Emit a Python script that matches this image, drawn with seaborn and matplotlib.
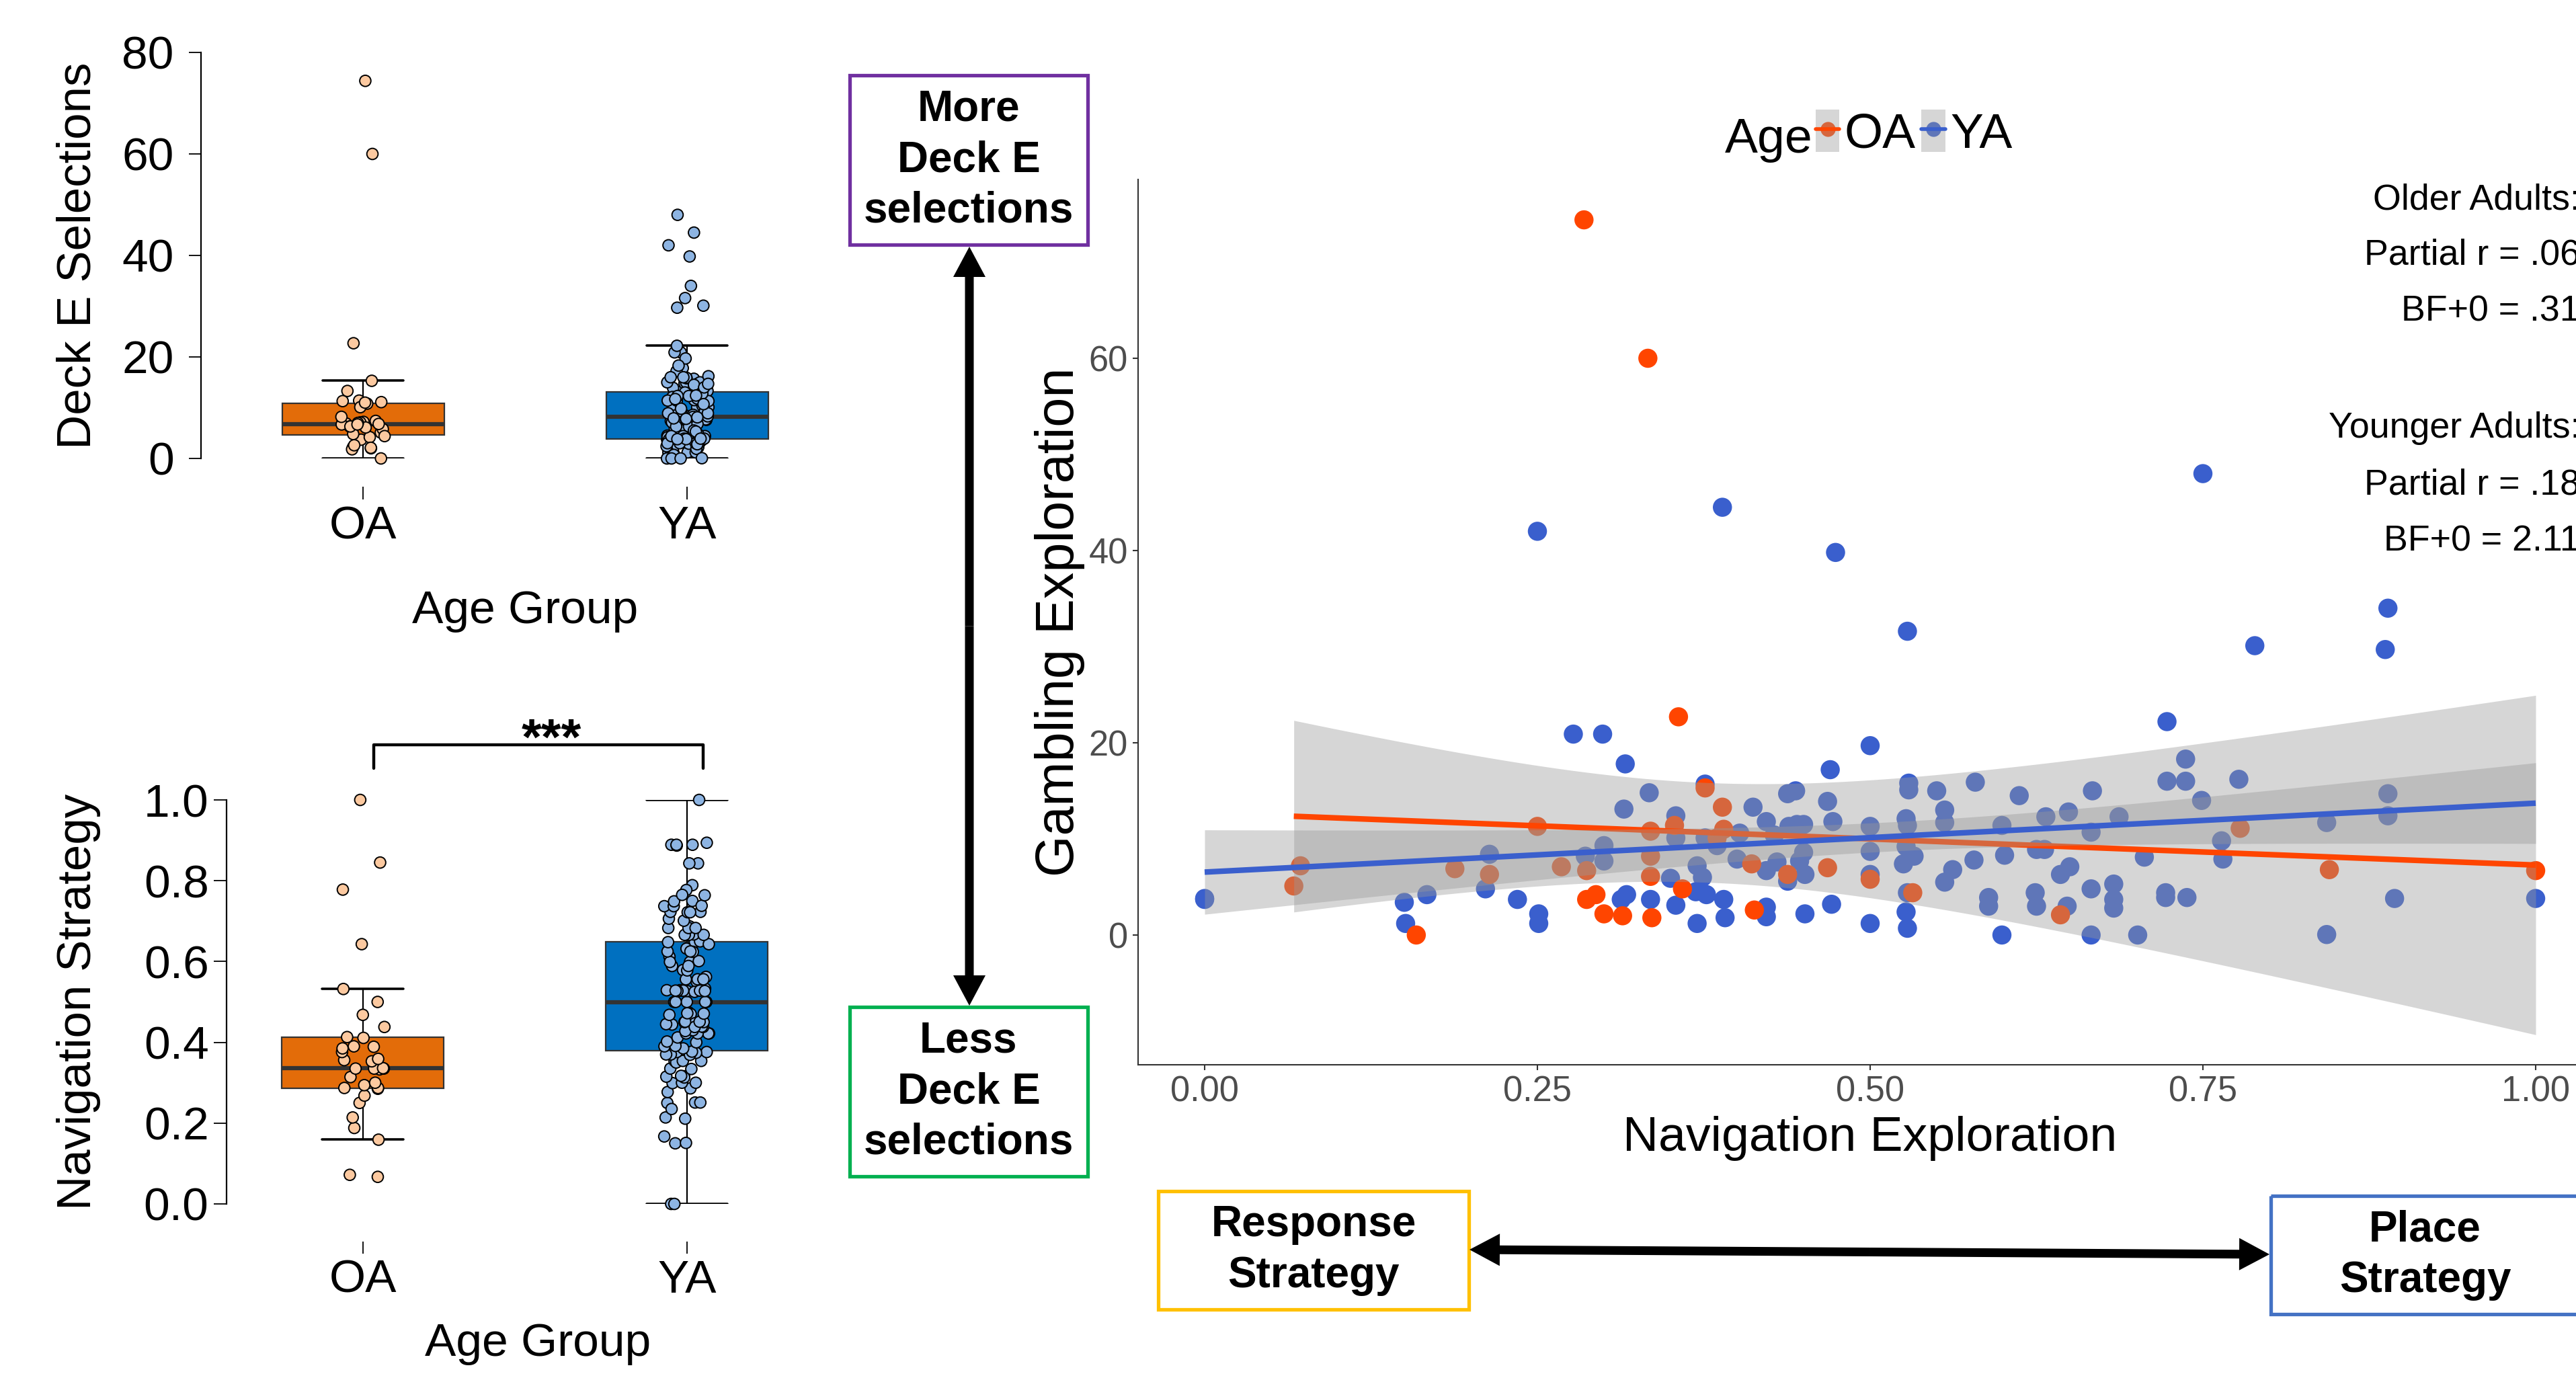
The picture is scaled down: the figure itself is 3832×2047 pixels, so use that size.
import numpy as np
import pandas as pd
import matplotlib
matplotlib.use("Agg")
import matplotlib.pyplot as plt
import seaborn as sns
from matplotlib import font_manager
from matplotlib.patches import Rectangle, FancyArrow, Patch
from matplotlib.lines import Line2D
from matplotlib.legend_handler import HandlerTuple

# ---------------- data ----------------
age_groups = ["OA", "YA"]

# Older adults: navigation exploration (x) and gambling exploration / Deck E selections (y)
oa_nav = [0.285, 0.333, 0.356, 0.072, 0.067, 0.159, 0.188, 0.214, 0.250, 0.268,
          0.287, 0.287, 0.294, 0.300, 0.314, 0.335, 0.335, 0.335, 0.336, 0.353,
          0.359, 0.376, 0.385, 0.389, 0.390, 0.411, 0.413, 0.438, 0.468, 0.500,
          0.532, 0.643, 0.778, 0.845, 1.000]
oa_gamb = [74.4, 60.0, 22.7, 7.2, 5.1, 0.0, 6.9, 6.3, 11.3, 7.1,
           6.7, 3.7, 4.2, 2.2, 2.0, 10.8, 8.2, 6.1, 1.8, 11.4,
           4.8, 15.3, 10.1, 13.3, 11.0, 7.4, 2.6, 6.3, 7.0, 5.8,
           4.4, 2.1, 11.1, 6.8, 6.7]

# Younger adults
ya_nav = [0.250, 0.389, 0.474, 0.277, 0.299, 0.316, 0.500, 0.470, 0.750, 0.528,
          0.789, 0.889, 0.887, 0.723, 0.000, 0.000, 0.150, 0.151, 0.167, 0.214,
          0.211, 0.235, 0.251, 0.251, 0.286, 0.300, 0.300, 0.315, 0.313, 0.317,
          0.334, 0.335, 0.354, 0.354, 0.350, 0.354, 0.376, 0.376, 0.370, 0.374,
          0.369, 0.377, 0.370, 0.385, 0.390, 0.391, 0.400, 0.402, 0.412, 0.422,
          0.422, 0.422, 0.422, 0.430, 0.428, 0.438, 0.444, 0.439, 0.445, 0.450,
          0.447, 0.450, 0.438, 0.451, 0.451, 0.468, 0.472, 0.471, 0.500, 0.500,
          0.500, 0.500, 0.529, 0.529, 0.550, 0.579, 0.556, 0.556, 0.527, 0.528,
          0.527, 0.533, 0.525, 0.528, 0.527, 0.528, 0.562, 0.556, 0.578, 0.599,
          0.612, 0.601, 0.589, 0.589, 0.599, 0.625, 0.631, 0.632, 0.649, 0.650,
          0.643, 0.648, 0.624, 0.625, 0.667, 0.666, 0.687, 0.666, 0.666, 0.683,
          0.683, 0.683, 0.701, 0.706, 0.723, 0.737, 0.737, 0.749, 0.722, 0.722,
          0.738, 0.777, 0.764, 0.765, 0.843, 0.843, 0.889, 0.889, 0.894, 1.000]
ya_gamb = [42.0, 44.5, 39.8, 20.9, 20.9, 17.8, 19.7, 17.2, 48.0, 31.6,
           30.1, 34.0, 29.7, 22.2, 3.7, 3.8, 3.4, 1.2, 4.2, 8.4,
           4.8, 3.7, 2.2, 1.2, 8.2, 9.3, 7.7, 13.1, 3.7, 4.2,
           14.8, 3.7, 12.4, 10.1, 5.9, 3.1, 15.7, 10.1, 7.2, 6.0,
           4.5, 4.2, 1.2, 9.3, 3.7, 1.8, 7.9, 10.6, 13.3, 11.8,
           2.9, 1.9, 6.7, 7.6, 10.4, 14.7, 15.0, 11.3, 11.5, 11.5,
           7.7, 8.6, 5.6, 6.3, 2.2, 13.9, 11.8, 3.2, 11.3, 8.7,
           6.3, 1.2, 15.8, 15.1, 15.0, 15.9, 13.0, 11.7, 12.1, 11.4,
           9.2, 8.2, 7.4, 4.4, 2.4, 0.7, 6.8, 5.5, 7.8, 11.4,
           14.5, 8.3, 3.9, 3.0, 0.0, 8.9, 8.9, 12.3, 12.8, 7.1,
           6.3, 3.0, 4.4, 3.0, 15.0, 10.7, 12.3, 4.8, 0.0, 5.3,
           3.7, 2.8, 0.0, 8.1, 16.0, 18.3, 16.0, 14.0, 4.4, 3.9,
           3.9, 16.2, 9.8, 7.9, 11.7, 0.05, 14.7, 12.4, 3.8, 3.8]

deck_ticks = [0, 20, 40, 60, 80]
strategy_ticks = [0.0, 0.2, 0.4, 0.6, 0.8, 1.0]
strategy_tick_labels = ["0.0", "0.2", "0.4", "0.6", "0.8", "1.0"]
nav_ticks = [0.0, 0.25, 0.50, 0.75, 1.00]
nav_tick_labels = ["0.00", "0.25", "0.50", "0.75", "1.00"]
gamb_ticks = [0, 20, 40, 60]
older_stats = ["Older Adults:", "Partial r = .06", "BF+0 = .31"]
younger_stats = ["Younger Adults:", "Partial r = .18", "BF+0 = 2.11"]
significance = "***"
deck_box_texts = ["More\nDeck E\nselections", "Less\nDeck E\nselections"]
strategy_box_texts = ["Response\nStrategy", "Place\nStrategy"]

# ---------------- style ----------------
sns.set_style("ticks")
avail = {f.name for f in font_manager.fontManager.ttflist}
REG = "Liberation Sans" if "Liberation Sans" in avail else "DejaVu Sans"
NAR = "Liberation Sans Narrow" if "Liberation Sans Narrow" in avail else REG
NS = 1.0 if NAR != REG else 0.88
plt.rcParams["font.family"] = [REG, "DejaVu Sans"]
for k in ["text.color", "axes.labelcolor", "xtick.color", "ytick.color", "axes.edgecolor"]:
    plt.rcParams[k] = "black"

W, H = 3832, 2047
fig = plt.figure(figsize=(W / 100, H / 100), dpi=100)


def rect(x0, y0, x1, y1):
    return [x0 / W, 1 - y1 / H, (x1 - x0) / W, (y1 - y0) / H]


box_fill = {"OA": "#E36C09", "YA": "#0070C0"}
pt_fill = {"OA": "#FCC9A0", "YA": "#8DB4E2"}
sc_col = {"OA": "#FF4500", "YA": "#3A5FCD"}


def box_panel(ax, oa_vals, ya_vals):
    df = pd.DataFrame({"Age Group": ["OA"] * len(oa_vals) + ["YA"] * len(ya_vals),
                       "value": list(oa_vals) + list(ya_vals)})
    sns.boxplot(data=df, x="Age Group", y="value", hue="Age Group", order=age_groups,
                hue_order=age_groups, palette=box_fill, saturation=1, width=0.5,
                showfliers=False, whis=1.5, linecolor="#333333", linewidth=1.6,
                legend=False, ax=ax,
                medianprops=dict(color="#333333", linewidth=4.5),
                whiskerprops=dict(color="black", linewidth=1.6),
                capprops=dict(color="black", linewidth=2.6))
    sns.stripplot(data=df, x="Age Group", y="value", hue="Age Group", order=age_groups,
                  hue_order=age_groups, palette=pt_fill, jitter=0.07, size=12,
                  edgecolor="black", linewidth=1.4, legend=False, ax=ax, zorder=3)
    for c in ax.collections:
        c.set_clip_on(False)
    for s in ["top", "right", "bottom"]:
        ax.spines[s].set_visible(False)
    ax.spines["left"].set_linewidth(1.6)
    ax.set_facecolor("none")


np.random.seed(3)

# ---- top-left: Deck E selections ----
ax1 = fig.add_axes(rect(299, 78, 1263, 682))
box_panel(ax1, oa_gamb, ya_gamb)
ax1.set_xlim(-0.5, 1.5)
ax1.set_ylim(0, 80)
ax1.set_yticks(deck_ticks)
ax1.spines["bottom"].set_position(("outward", 30))
ax1.tick_params(axis="y", length=13, width=1.3, pad=16, labelsize=50)
ax1.tick_params(axis="x", length=14, width=1.3, pad=6, labelsize=50)
ax1.set_ylabel("Deck E Selections", fontsize=51)
ax1.yaxis.set_label_coords(-0.189, 0.5)
ax1.yaxis.label.set_va("center")
ax1.set_xlabel("Age Group", fontsize=50)
ax1.xaxis.set_label_coords(0.5, -0.376)
ax1.xaxis.label.set_va("center")

# ---- bottom-left: Navigation strategy ----
ax2 = fig.add_axes(rect(337, 1190, 1263, 1791))
box_panel(ax2, oa_nav, ya_nav)
ax2.set_xlim(-0.42, 1.5)
ax2.set_ylim(0, 1)
ax2.set_yticks(strategy_ticks, labels=strategy_tick_labels)
ax2.spines["bottom"].set_position(("outward", 40))
ax2.tick_params(axis="y", length=14, width=1.3, pad=5, labelsize=50)
ax2.tick_params(axis="x", length=13, width=1.3, pad=6, labelsize=50)
ax2.set_ylabel("Navigation Strategy", fontsize=51)
ax2.yaxis.set_label_coords(-0.2376, 0.5)
ax2.yaxis.label.set_va("center")
ax2.set_xlabel("Age Group", fontsize=50)
ax2.xaxis.set_label_coords(0.5, -0.346)
ax2.xaxis.label.set_va("center")
ax2.plot([0.035, 0.035, 1.05, 1.05], [1.078, 1.136, 1.136, 1.078], color="black",
         lw=3.2, clip_on=False, solid_joinstyle="round")
ax2.text(0.583, 1.113, significance, ha="center", va="baseline", fontsize=55,
         fontweight="bold", clip_on=False)

# ---- scatter: navigation vs gambling exploration ----
ax3 = fig.add_axes(rect(1693, 267, 3871, 1584))
ax3.set_facecolor("none")
sdf = pd.DataFrame({
    "Navigation Exploration": ya_nav + oa_nav,
    "Gambling Exploration": ya_gamb + oa_gamb,
    "Age": ["YA"] * len(ya_nav) + ["OA"] * len(oa_nav),
})
sns.scatterplot(data=sdf, x="Navigation Exploration", y="Gambling Exploration", hue="Age",
                palette=sc_col, s=420, linewidth=0, legend=False, ax=ax3, zorder=2)


def t95(df):
    z = 1.959964
    return z + (z ** 3 + z) / (4 * df) + (5 * z ** 5 + 16 * z ** 3 + 3 * z) / (96 * df ** 2)


for g, xs_, ys_ in [("OA", oa_nav, oa_gamb), ("YA", ya_nav, ya_gamb)]:
    x = np.asarray(xs_, float)
    y = np.asarray(ys_, float)
    n = len(x)
    b1, b0 = np.polyfit(x, y, 1)
    grid = np.linspace(x.min(), x.max(), 100)
    fit = b0 + b1 * grid
    s = np.sqrt(np.sum((y - (b0 + b1 * x)) ** 2) / (n - 2))
    se = s * np.sqrt(1 / n + (grid - x.mean()) ** 2 / np.sum((x - x.mean()) ** 2))
    t = t95(n - 2)
    ax3.fill_between(grid, fit - t * se, fit + t * se, color="#999999", alpha=0.4,
                     lw=0, zorder=3)
    ax3.plot(grid, fit, color=sc_col[g], lw=6, zorder=3, solid_capstyle="butt")

ax3.set_xlim(-0.05, 1.05)
ax3.set_ylim(-13.5, 78.6)
ax3.set_xticks(nav_ticks, labels=nav_tick_labels)
ax3.set_yticks(gamb_ticks)
for s in ["top", "right"]:
    ax3.spines[s].set_visible(False)
for s in ["left", "bottom"]:
    ax3.spines[s].set_color("#333333")
    ax3.spines[s].set_linewidth(1.5)
ax3.tick_params(colors="#333333", labelcolor="#4D4D4D", length=6, width=1.5,
                labelsize=43 * NS, pad=5)
for lbl in ax3.get_xticklabels() + ax3.get_yticklabels():
    lbl.set_fontfamily(NAR)
ax3.set_xlabel("Navigation Exploration", fontsize=60 * NS, family=NAR)
ax3.xaxis.set_label_coords(0.5, -0.0835)
ax3.xaxis.label.set_va("center")
ax3.set_ylabel("Gambling Exploration", fontsize=57, family=REG)
ax3.yaxis.set_label_coords(-0.0537, 0.5)
ax3.yaxis.label.set_va("center")

# legend "Age  OA  YA"
handles = []
for g in age_groups:
    pt = Line2D([], [], marker="o", ls="none", markersize=16, markerfacecolor=sc_col[g],
                markeredgewidth=0)
    bg = Patch(facecolor=(0.6, 0.6, 0.6, 0.4), edgecolor="none")
    ln = Line2D([], [], color=sc_col[g], lw=4)
    handles.append((pt, bg, ln))
leg = ax3.legend(handles, age_groups, handler_map={tuple: HandlerTuple(ndivide=1, pad=0)},
                 ncol=2, loc="center left", bbox_to_anchor=(2701 / W, 1 - 199 / H),
                 bbox_transform=fig.transFigure, frameon=False,
                 prop={"family": NAR, "size": 60 * NS}, handlelength=0.48,
                 handleheight=0.95, handletextpad=0.1, columnspacing=0.12,
                 borderpad=0, borderaxespad=0)
fig.text(2566 / W, 1 - 227 / H, "Age", ha="left", va="baseline", fontsize=60 * NS, family=NAR)

# stats annotations (cut at the right edge, as in the source)
for txt, yb in zip(older_stats + younger_stats, [311, 394, 478, 651, 736, 820]):
    fig.text(3838 / W, 1 - yb / H, txt, ha="right", va="baseline", fontsize=44 * NS,
             family=NAR)

# ---- overlay for boxes and arrows (pixel coordinates) ----
ov = fig.add_axes([0, 0, 1, 1], zorder=-1)
ov.set_xlim(0, W)
ov.set_ylim(H, 0)
ov.axis("off")

boxes = [
    (1264, 112, 1618, 364, "#7030A0", deck_box_texts[0]),
    (1264, 1498, 1618, 1750, "#00B050", deck_box_texts[1]),
    (1723, 1772, 2185, 1948, "#FFC000", strategy_box_texts[0]),
    (3378, 1779, 3837, 1955, "#4472C4", strategy_box_texts[1]),
]
for x0, y0, x1, y1, col, txt in boxes:
    ov.add_patch(Rectangle((x0, y0), x1 - x0, y1 - y0, fill=False, edgecolor=col, lw=3.8))
    ov.text((x0 + x1) / 2, (y0 + y1) / 2, txt, ha="center", va="center", fontsize=46,
            fontweight="bold", linespacing=1.32, family=REG)


def double_arrow(p0, p1):
    mx, my = (p0[0] + p1[0]) / 2, (p0[1] + p1[1]) / 2
    for px, py in (p0, p1):
        ov.add_patch(FancyArrow(mx, my, px - mx, py - my, width=13, head_width=48,
                                head_length=45, length_includes_head=True,
                                color="black", lw=0))


double_arrow((1442, 367), (1442, 1496))
double_arrow((2186, 1859), (3376, 1866))

fig.savefig("out.png", dpi=100)
